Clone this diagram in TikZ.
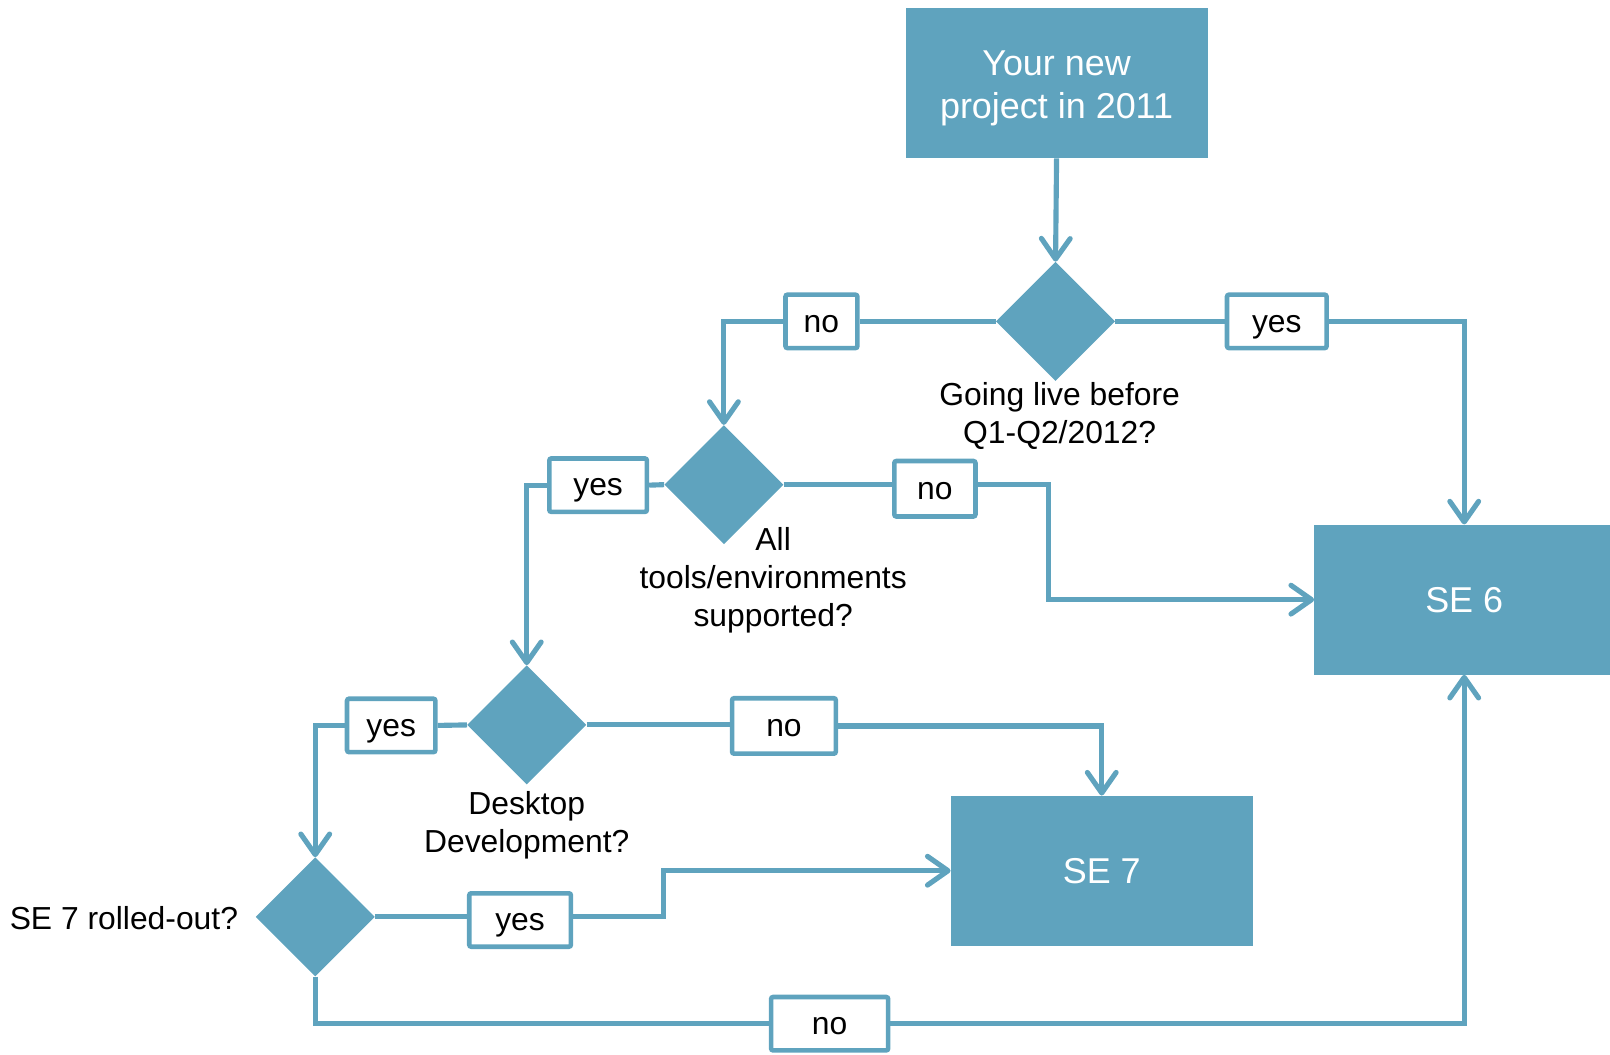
\documentclass[tikz,border=0pt]{standalone}
\usepackage{fontspec}
\setmainfont{Liberation Sans}
\usetikzlibrary{shapes.geometric,arrows.meta}
\definecolor{teal1}{RGB}{95,163,190}
\begin{document}
\begin{tikzpicture}[x=1pt,y=-1pt,
 bigbox/.style={fill=teal1, text=white, minimum width=294pt, minimum height=146pt, inner sep=0pt, font=\fontsize{35}{42}\selectfont, align=center},
 dec/.style={diamond, fill=teal1, minimum width=116pt, minimum height=116pt, inner sep=0pt, aspect=1},
 lbl/.style={draw=teal1, fill=white, line width=4.5pt, rounded corners=2pt, inner sep=0pt, minimum height=52pt, text height=21pt, text depth=0pt, font=\fontsize{31}{37}\selectfont},
 qtext/.style={font=\fontsize{31}{37}\selectfont, align=center, inner sep=0pt},
 conn/.style={draw=teal1, line width=5pt},
 arr/.style={conn, -{Straight Barb[length=20pt,width=28pt,round]}}
]
\useasboundingbox (0,0) rectangle (1568,1027);

% big boxes
\node[bigbox] (start) at (1029,81) {};
\node[font=\fontsize{35}{42}\selectfont, text=white, align=center, inner sep=0pt] (starttext) at (1029,86) {Your new\\project in 2011};
\node[bigbox, minimum width=292pt] (se6) at (1426,584) {SE 6};
\node[bigbox] (se7) at (1073,848) {SE 7};

% decisions
\node[dec] (d1) at (1028,313) {};
\node[dec] (d2) at (705,472) {};
\node[dec] (d3) at (513,706) {};
\node[dec] (d4) at (307,893) {};

% question texts
\node[qtext] (q1) at (1032,405) {Going live before\\Q1-Q2/2012?};
\node[qtext] (q2) at (753,565) {All\\tools/environments\\supported?};
\node[qtext] (q3) at (513,804) {Desktop\\Development?};
\node[qtext, anchor=east] (q4) at (232,894) {SE 7 rolled-out?};

% label boxes
\node[lbl, minimum width=70pt] (no1) at (800,313) {no};
\node[lbl, minimum width=97pt] (yes1) at (1243.5,313) {yes};
\node[lbl, minimum width=79pt, minimum height=54pt] (no2) at (910.5,476) {no};
\node[lbl, minimum width=95pt] (yes2) at (582.5,472.5) {yes};
\node[lbl, minimum width=101pt, minimum height=54pt] (no3) at (763.5,707) {no};
\node[lbl, minimum width=86pt] (yes3) at (381,706.5) {yes};
\node[lbl, minimum width=99pt] (yes4) at (506.5,896) {yes};
\node[lbl, minimum width=114pt] (no4) at (808,997) {no};

\coordinate (k2) at (1021,472);
\coordinate (k4) at (646,893);

% connectors
\draw[arr] (start.south) -- (d1.north);
\draw[conn] (d1.west) -- (no1.east);
\draw[arr] (no1.west) -| (d2.north);
\draw[conn] (d1.east) -- (yes1.west);
\draw[arr] (yes1.east) -| (se6.north);

\draw[conn] (d2.east) -- (d2.east -| no2.west);
\draw[arr] (d2.east -| no2.east) -- (k2) |- (se6.west);
\draw[conn] (d2.west) -- (yes2.east);
\draw[arr] (yes2.west) -| (d3.north);

\draw[conn] (d3.east) -- (d3.east -| no3.west);
\draw[arr] (no3.east) -| (se7.north);
\draw[conn] (d3.west) -- (yes3.east);
\draw[arr] (yes3.west) -| (d4.north);

\draw[conn] (d4.east) -- (d4.east -| yes4.west);
\draw[arr] (d4.east -| yes4.east) -- (k4) |- (se7.west);
\draw[conn] (d4.south) |- (no4.west);
\draw[arr] (no4.east) -| (se6.south);
\end{tikzpicture}
\end{document}
